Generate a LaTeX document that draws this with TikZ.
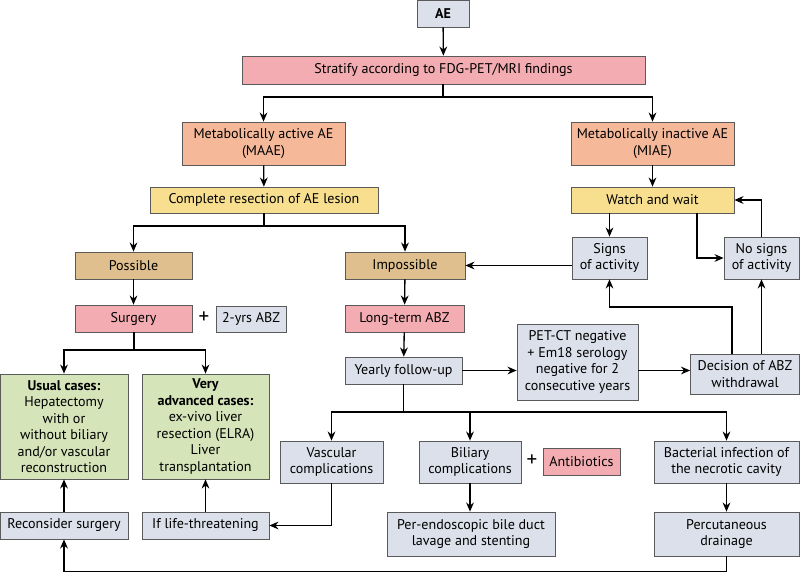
\documentclass[tikz,border=0pt]{standalone}
\usepackage{fontspec}
\setmainfont{PT Sans}
\usetikzlibrary{arrows.meta}

\newdimen\unitpx \unitpx=0.025cm

\definecolor{boxgray}{HTML}{DCE0EA}
\definecolor{boxpink}{HTML}{F3ACB1}
\definecolor{boxsalmon}{HTML}{F5B99A}
\definecolor{boxyellow}{HTML}{F8DF90}
\definecolor{boxtan}{HTML}{DEBF8D}
\definecolor{boxgreen}{HTML}{D6E4BA}
\definecolor{edgegray}{HTML}{5A5A5A}

\tikzset{
  box/.style 2 args={draw=edgegray, line width=0.5pt, align=center, inner sep=1pt,
    minimum width=#1\unitpx, minimum height=#2\unitpx},
  link/.style={->, line width=0.95pt},
}

\begin{document}
\begin{tikzpicture}[x=0.025cm, y=-0.025cm, >={Stealth[length=6.5pt,width=5.5pt]},
    every node/.style={font=\fontsize{10}{11.7}\selectfont}]
        \useasboundingbox (0,0) rectangle (800,573);
        % top of the tree
        \node[box={52}{27}, fill=boxgray] (ae) at (443,13.5) {\textbf{AE}};
        \node[box={403}{28}, fill=boxpink] (strat) at (443.5,70) {Stratify according to FDG-PET/MRI findings};
        \node[box={163}{43}, fill=boxsalmon] (maae) at (263.5,143.5) {Metabolically active AE\\(MAAE)};
        \node[box={163}{43}, fill=boxsalmon] (miae) at (652.5,143.5) {Metabolically inactive AE\\(MIAE)};
        \node[box={228}{26}, fill=boxyellow] (compl) at (264,200) {Complete resection of AE lesion};
        \node[box={163}{26}, fill=boxyellow] (watch) at (652.5,200) {Watch and wait};
        % left branch
        \node[box={117}{27}, fill=boxtan] (poss) at (133.5,265.5) {Possible};
        \node[box={120}{27}, fill=boxtan] (imposs) at (405,265.5) {Impossible};
        \node[box={117}{27}, fill=boxpink] (surg) at (133.5,318.5) {Surgery};
        \node[font=\fontsize{15}{16}\selectfont] (plusa) at (204,318) {+};
        \node[box={70}{26}, fill=boxgray] (abz) at (251,319) {2-yrs ABZ};
        \node[box={128}{105}, fill=boxgreen] (usual) at (64,426.5)
            {\textbf{Usual cases:}\\Hepatectomy\\with or\\without biliary\\and/or vascular\\reconstruction};
        \node[box={127}{105}, fill=boxgreen] (adv) at (205.5,426.5)
            {\textbf{Very}\\\textbf{advanced cases:}\\ex-vivo liver\\resection (ELRA)\\Liver\\transplantation};
        \node[box={128}{27}, fill=boxgray] (recons) at (64,525.5) {Reconsider surgery};
        \node[box={127}{27}, fill=boxgray] (life) at (205.5,525.5) {If life-threatening};
        % right branch
        \node[box={119}{27}, fill=boxpink] (longt) at (404.5,318.5) {Long-term ABZ};
        \node[box={117}{27}, fill=boxgray] (yearly) at (403.5,370.5) {Yearly follow-up};
        \node[box={121}{76}, fill=boxgray] (petct) at (577.5,362)
            {PET-CT negative\\+ Em18 serology\\negative for 2\\consecutive years};
        \node[box={109}{40}, fill=boxgray] (decis) at (745,374) {Decision of ABZ\\withdrawal};
        \node[box={75}{42}, fill=boxgray] (signs) at (609.5,258) {Signs\\of activity};
        \node[box={75}{42}, fill=boxgray] (nosigns) at (761.5,258) {No signs\\of activity};
        % complications
        \node[box={103}{42}, fill=boxgray] (vasc) at (331.5,462) {Vascular\\complications};
        \node[box={102}{42}, fill=boxgray] (bil) at (470,462) {Biliary\\complications};
        \node[font=\fontsize{15}{16}\selectfont] (plusb) at (532,461) {+};
        \node[box={77}{27}, fill=boxpink] (antib) at (581.5,461.5) {Antibiotics};
        \node[box={168}{44}, fill=boxgray] (endo) at (471,534) {Per-endoscopic bile duct\\lavage and stenting};
        \node[box={145}{42}, fill=boxgray] (bact) at (726.5,462) {Bacterial infection of\\the necrotic cavity};
        \node[box={145}{44}, fill=boxgray] (percut) at (726.5,534) {Percutaneous\\drainage};

        \coordinate (ja) at (443,97);
        \coordinate (jb) at (264,226);
        \coordinate (jc) at (134,350);
        \coordinate (jd) at (403.5,412);
        \coordinate (ka) at (732,307);
        \coordinate (kb) at (697,258);

        \draw[link] (ae) -- (strat);
        \draw[link] (strat.south -| ja) -- (ja) -| (maae.north);
        \draw[link] (ja) -| (miae.north);
        \draw[link] (maae) -- (compl);
        \draw[link] (miae) -- (watch);
        \draw[link] (compl.south -| jb) -- (jb) -| (poss.north);
        \draw[link] (jb) -| (imposs.north);
        \draw[link] (poss) -- (surg);
        \draw[link] (surg.south -| jc) -- (jc) -| (usual.north);
        \draw[link] (jc) -| (adv.north);
        \draw[link] (recons) -- (usual);
        \draw[link] (life) -- (adv);
        \draw[link] (imposs) -- (longt);
        \draw[link] (longt) -- (yearly);
        \draw[link] (yearly.east) -- (yearly.east -| petct.west);
        \draw[link] (yearly.east -| petct.east) -- (yearly.east -| decis.west);
        \draw[link] (ka |- decis.north) -- (ka) -| (signs.south);
        \draw[link] (decis.north -| nosigns.south) -- (nosigns.south);
        \draw[link] (watch.south -| signs.north) -- (signs.north);
        \draw[link] (kb |- watch.south) -- (kb) -- (nosigns.west);
        \draw[link] (nosigns.north) |- (watch.east);
        \draw[link] (signs.west |- imposs.east) -- (imposs.east);
        \draw[link] (yearly.south) -- (jd) -| (vasc.north);
        \draw[link] (jd) -| (bil.north);
        \draw[link] (jd) -| (bact.north);
        \draw[link] (vasc.south) |- (life.east);
        \draw[link] (bil.south) -- (bil.south |- endo.north);
        \draw[link] (bact) -- (percut);
        \draw[link] (percut.south) -- ++(0,15) -| (recons.south);
    \end{tikzpicture}
\end{document}
